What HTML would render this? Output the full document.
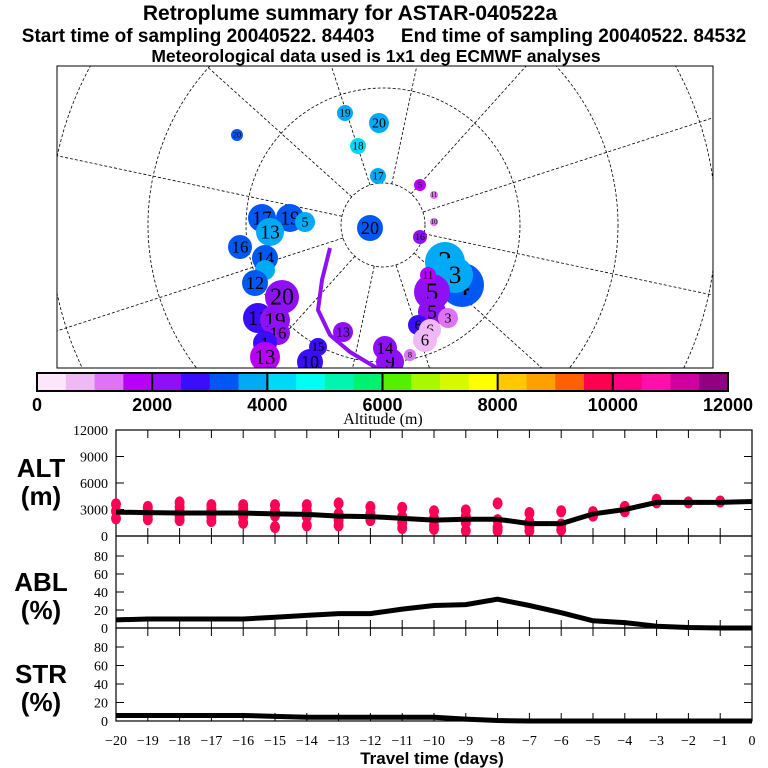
<!DOCTYPE html>
<html><head><meta charset="utf-8"><style>
html,body{margin:0;padding:0;width:768px;height:768px;overflow:hidden;background:#fff}
svg{display:block}
.t{font-family:"Liberation Sans",sans-serif;font-weight:bold;fill:#000}
.s{font-family:"Liberation Serif",serif;fill:#000}
</style></head><body>
<svg id="c" width="768" height="768" viewBox="0 0 768 768" overflow="hidden">
<text class="t" x="350" y="20" font-size="21" text-anchor="middle">Retroplume summary for ASTAR-040522a</text>
<text class="t" x="384" y="42" font-size="19" text-anchor="middle" xml:space="preserve">Start time of sampling 20040522. 84403     End time of sampling 20040522. 84532</text>
<text class="t" x="376" y="62" font-size="17.5" text-anchor="middle">Meteorological data used is 1x1 deg ECMWF analyses</text>
<g id="map"></g>
<g id="cbar"></g>
<g id="panels"></g>
</svg>
<script>
const days=[-20,-19,-18,-17,-16,-15,-14,-13,-12,-11,-10,-9,-8,-7,-6,-5,-4,-3,-2,-1,0];
const altMean=[2700,2650,2600,2600,2600,2500,2450,2250,2200,2000,1800,1900,1900,1400,1400,2500,3000,3800,3800,3800,3900];
const ablPct=[9,10,10,10,10,12,14,16,16,21,25,26,32,25,17,8,6,2,0.5,0,0];
const strPct=[6,6,6,6,6,5,4,4,4,4,4,2,0.5,0,0,0,0,0,0,0,0];
const altDots=[[3600,2800,2000],[3300,2900,2300,1900],[3800,3300,2800,2300,1800],[3500,3000,2200,1700],[3500,3000,2200,1500],[3500,2800,2300,1000],[3500,2800,2200,1200],[3700,2500,1800,1200],[3300,2500,1800],[3200,2200,1500,900],[2800,2000,1200,800],[2900,2200,1500,600],[3700,1800,1000,600],[2600,1600,1100,600],[2800,1300,700],[2700,2300],[3300,2800],[4100,3800],[3800],[3900]];
const altTicks=[0,3000,6000,9000,12000];
const pctTicks=[0,20,40,60,80];
const xTickLabels=["\u221220","\u221219","\u221218","\u221217","\u221216","\u221215","\u221214","\u221213","\u221212","\u221211","\u221210","\u22129","\u22128","\u22127","\u22126","\u22125","\u22124","\u22123","\u22122","\u22121","0"];
const cbarColors=["#fde5fb","#f0b8f5","#de73f5","#b800f8","#8f10f5","#3a0dfc","#0058f2","#00aaf5","#00d8f8","#00fff0","#00f5b0","#00f070","#55f000","#a8f800","#d8f800","#ffff00","#ffc800","#ffa000","#ff6000","#ff0050","#ff0080","#ff10a8","#d000a0","#900080"];
const cbarLabels=["0","2000","4000","6000","8000","10000","12000"];
const mapMarkers=[[237,135,6,6,"20"],[345,113,8,7,"19"],[379,123,10,7,"20"],[358,146,8,8,"18"],[378,176,8,7,"17"],[370,228,13,6,"20"],
[262,218,14,6,"17"],[290,218,14,6,"19"],[305,222,10,7,"5"],[270,232,14,7,"13"],[240,247,12,6,"16"],[265,258,13,6,"14"],[265,270,10,7,""],[255,283,13,6,"12"],
[282,297,17,4,"20"],[258,318,15,5,"11"],[275,320,15,4,"19"],[278,333,12,4,"16"],[265,343,12,5,"1"],[265,357,15,3,"13"],[310,362,13,5,"10"],[390,362,14,4,"9"],[385,348,12,4,"14"],[343,332,10,4,"13"],[318,347,9,5,"15"],
[445,262,20,7,"2"],[462,285,22,6,"4"],[455,275,18,7,"3"],[432,292,18,4,"5"],[432,312,14,4,"5"],[448,318,10,2,"3"],[418,325,10,5,"6"],[430,330,11,1,"6"],[425,340,12,1,"6"],[410,355,6,2,"8"],[420,237,7,4,"16"],[420,185,6,3,"5"],[434,195,4,2,"11"],[434,222,4,2,"10"],[428,275,8,3,"11"]];
const NS="http://www.w3.org/2000/svg";
function mk(p,tag,a){const e=document.createElementNS(NS,tag);for(const k in a)e.setAttribute(k,a[k]);p.appendChild(e);return e;}
const map=document.getElementById('map');
const clipDef=mk(document.getElementById('c'),'defs',{});
const cp=mk(clipDef,'clipPath',{id:'mc'});mk(cp,'rect',{x:57,y:66,width:656,height:302});
const mg=mk(map,'g',{'clip-path':'url(#mc)'});
const px=383,py=225;
[42,137,235,333].forEach(r=>{const e=mk(mg,'circle',{cx:px,cy:py,r:r,fill:'none',stroke:'#000','stroke-width':0.8,'stroke-dasharray':'3,2'});
});
for(let i=0;i<12;i++){const a=(i*30+12)*Math.PI/180;const e=mk(mg,'line',{x1:px+42*Math.cos(a),y1:py+42*Math.sin(a),x2:px+400*Math.cos(a),y2:py+400*Math.sin(a),stroke:'#000','stroke-width':0.8,'stroke-dasharray':'3,2'});
}
const tr=mk(mg,'path',{d:'M330 248 L322 280 L318 310 L330 335 L350 352 L380 370',fill:'none',stroke:'#8f10f5','stroke-width':4});

mapMarkers.forEach(m=>{const g=mk(mg,'g',{});

mk(g,'circle',{cx:m[0],cy:m[1],r:m[2],fill:cbarColors[m[3]]});
if(m[4]){const t=mk(g,'text',{x:m[0],y:m[1]+m[2]*0.45,'font-size':Math.max(7,m[2]*1.4),'text-anchor':'middle',class:'s'});t.textContent=m[4];}});
const fr=mk(map,'rect',{x:57,y:66,width:656,height:302,fill:'none',stroke:'#000','stroke-width':1});

const cb=document.getElementById('cbar');const cx0=37,cx1=728,cy0=373,ch=18;const cw=(cx1-cx0)/cbarColors.length;
cbarColors.forEach((c,i)=>{const e=mk(cb,'rect',{x:cx0+i*cw,y:cy0,width:cw+0.5,height:ch,fill:c});
});
for(let i=1;i<6;i++)mk(cb,'line',{x1:cx0+i*4*cw,x2:cx0+i*4*cw,y1:cy0,y2:cy0+ch,stroke:'#000','stroke-width':2});
mk(cb,'rect',{x:cx0,y:cy0,width:cx1-cx0,height:ch,fill:'none',stroke:'#000','stroke-width':2});
cbarLabels.forEach((l,i)=>{const t=mk(cb,'text',{x:cx0+i*4*cw,y:411,'font-size':18,'text-anchor':'middle',class:'t'});t.textContent=l;
});
const at=mk(cb,'text',{x:383,y:424,'font-size':16,'text-anchor':'middle',class:'s'});at.textContent='Altitude (m)';

const P=document.getElementById('panels');
const X0=116,X1=752;const xs=d=>X0+(d+20)*(X1-X0)/20;
function panel(top,zeroY,ticks,vmax80Y,vmax80,label1,label2,ly,name){
  const g=mk(P,'g',{});
  const ys=v=>zeroY+(vmax80Y-zeroY)*v/vmax80;
  mk(g,'rect',{x:X0,y:top,width:X1-X0,height:zeroY-top,fill:'none',stroke:'#000','stroke-width':1.2});
  ticks.forEach(v=>{const y=ys(v);mk(g,'line',{x1:X0,x2:X0+8,y1:y,y2:y,stroke:'#000'});mk(g,'line',{x1:X1-8,x2:X1,y1:y,y2:y,stroke:'#000'});
    const t=mk(g,'text',{x:X0-8,y:y+5,'font-size':14,'text-anchor':'end',class:'s'});t.textContent=v;
    });
  days.forEach(d=>{const x=xs(d);mk(g,'line',{x1:x,x2:x,y1:top,y2:top+8,stroke:'#000'});mk(g,'line',{x1:x,x2:x,y1:zeroY-8,y2:zeroY,stroke:'#000'});});
  const a=mk(g,'text',{x:41,y:ly,'font-size':26,'text-anchor':'middle',class:'t'});a.textContent=label1;
  
  const b=mk(g,'text',{x:41,y:ly+28,'font-size':26,'text-anchor':'middle',class:'t'});b.textContent=label2;
  
  return {g,ys};
}
const alt=panel(430,536,altTicks,430,12000,'ALT','(m)',477,'alt-panel');
altDots.forEach((arr,i)=>arr.forEach(v=>{const e=mk(alt.g,'ellipse',{cx:xs(days[i]),cy:alt.ys(v),rx:5,ry:6,fill:'#ff0055'});
}));
const al=mk(alt.g,'polyline',{points:days.map((d,i)=>xs(d)+','+alt.ys(altMean[i])).join(' '),fill:'none',stroke:'#000','stroke-width':5});

const abl=panel(536,628,pctTicks,556,80,'ABL','(%)',591,'abl-panel');
const bl=mk(abl.g,'polyline',{points:days.map((d,i)=>xs(d)+','+abl.ys(ablPct[i])).join(' '),fill:'none',stroke:'#000','stroke-width':5});

const str=panel(628,721,pctTicks,647,80,'STR','(%)',683,'str-panel');
const sl=mk(str.g,'polyline',{points:days.map((d,i)=>xs(d)+','+str.ys(strPct[i])).join(' '),fill:'none',stroke:'#000','stroke-width':5});

days.forEach((d,i)=>{const t=mk(P,'text',{x:xs(d),y:745,'font-size':14,'text-anchor':'middle',class:'s'});t.textContent=xTickLabels[i];
});
const xt=mk(P,'text',{x:432,y:764,'font-size':17,'text-anchor':'middle',class:'t'});xt.textContent='Travel time (days)';

</script>
</body></html>
